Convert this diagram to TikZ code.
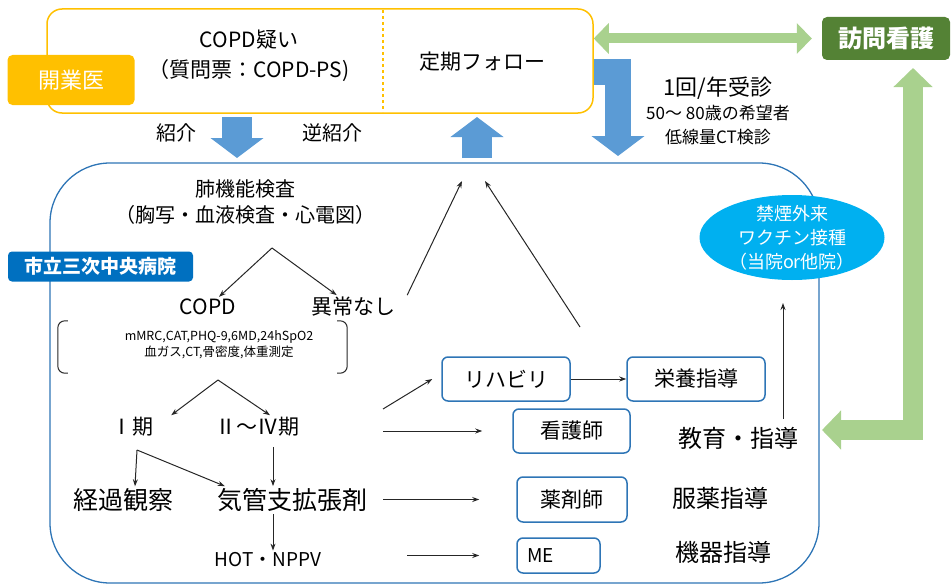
\documentclass[tikz,border=0pt]{standalone}
\usepackage{fontspec}
\setmainfont{Noto Sans CJK JP}
\usepackage{tikz}
\usetikzlibrary{arrows.meta}
\usetikzlibrary{shapes.geometric}
\usetikzlibrary{positioning}

\definecolor{gpOrange}{HTML}{FFC000}
\definecolor{flowBlue}{HTML}{5B9BD5}
\definecolor{linkGreen}{HTML}{A9D18E}
\definecolor{visitGreen}{HTML}{548235}
\definecolor{hospBlue}{HTML}{2E75B6}
\definecolor{labelBlue}{HTML}{0070C0}
\definecolor{clinicCyan}{HTML}{00B0F0}

\newcommand{\jsize}[2]{\fontsize{#1pt}{#2pt}\selectfont}

\tikzset{
	txt/.style={inner sep=2pt, text=black},
	bigarrow/.style={draw=flowBlue, line width=30pt, -{Triangle[length=20pt,width=52pt]}},
	greenarrow/.style={draw=linkGreen, line join=miter},
}

\begin{document}
\begin{tikzpicture}[x=1pt, y=-1pt]
	\useasboundingbox (0,0) rectangle (952,586);
	% frames
	\node[draw=gpOrange, line width=1.5pt, rounded corners=15pt, minimum width=546pt, minimum height=104pt] (gp) at (320,61) {};
	\draw[gpOrange, line width=1.2pt, dashed] (383,10) -- (383,112);
	\node[draw=hospBlue, line width=1.3pt, rounded corners=60pt, minimum width=769pt, minimum height=420pt] (hosp) at (434.5,373) {};

	\node[fill=gpOrange, rounded corners=5pt, minimum width=127pt, minimum height=50pt, text=white, font=\jsize{22}{26}] (kaigyo) at (71,80) {開業医};
	\node[txt, align=center, font=\jsize{21}{30}] (suspect) at (249,56) {COPD疑い\\（質問票：COPD-PS)};
	\node[txt, font=\jsize{21}{26}] (follow) at (482,62) {定期フォロー};
	\node[fill=visitGreen, rounded corners=5pt, minimum width=128pt, minimum height=43pt, text=white, font=\jsize{24}{28}\bfseries] (visit) at (886,38.5) {訪問看護};

	% referral arrows
	\coordinate (refTop) at (237,117);
	\coordinate (refTip) at (237,158);
	\coordinate (backBase) at (477,158);
	\coordinate (backTip) at (477,117);
	\coordinate (ctTip) at (618,156);
	\draw[bigarrow] (refTop) -- (refTip);
	\draw[bigarrow] (backBase) -- (backTip);
	\draw[bigarrow, line width=26pt, line join=miter] ([yshift=-11pt]gp.east) -| (ctTip);
	\node[txt, font=\jsize{20}{24}] (refer) at (176,133) {紹介};
	\node[txt, font=\jsize{20}{24}] (reverse) at (332,133) {逆紹介};
	\node[txt, align=center, font=\jsize{17}{24}] (ctnote) at (718,111) {{\jsize{22}{24}1回/年受診}\\50～ 80歳の希望者\\低線量CT検診};

	\coordinate (visitTip) at (913,68);
	\coordinate (eduTip) at (822,430);
	\draw[greenarrow, line width=10pt, {Triangle[length=15pt,width=30pt]}-{Triangle[length=15pt,width=30pt]}] (gp.east |- visit.west) -- ([xshift=-10pt]visit.west);
	\draw[greenarrow, line width=20pt, {Triangle[length=19pt,width=38pt]}-{Triangle[length=19pt,width=38pt]}] (visitTip) |- (eduTip);

	\node[fill=labelBlue, rounded corners=4pt, minimum width=185pt, minimum height=30pt, text=white, font=\jsize{19}{22}\bfseries] (hospname) at (100.5,266.5) {市立三次中央病院};
	\node[ellipse, fill=clinicCyan, minimum width=185pt, minimum height=85pt] (clinic) at (792,237.5) {};
	\node[align=center, text=white, inner sep=0pt, font=\jsize{18}{24}] (clinicText) at (clinic) {禁煙外来\\ワクチン接種\\（当院or他院）};

	% hospital flow
	\node[txt, align=center, font=\jsize{20}{26}] (lungtest) at (245,202) {肺機能検査\\（胸写・血液検査・心電図）};
	\coordinate (fork1) at (272,248);
	\node[txt, font=\jsize{21}{24}] (copd) at (208,307) {COPD};
	\node[txt, font=\jsize{21}{24}] (normal) at (353,307) {異常なし};
	\node[minimum width=289pt, minimum height=52pt, inner sep=0pt] (brk) at (202.5,347) {};
	\draw[line width=1pt, black!85, rounded corners=7pt] ([xshift=10pt]brk.north west) -- (brk.north west) -- (brk.south west) -- ([xshift=10pt]brk.south west);
	\draw[line width=1pt, black!85, rounded corners=7pt] ([xshift=-10pt]brk.north east) -- (brk.north east) -- (brk.south east) -- ([xshift=-10pt]brk.south east);
	\node[txt, align=center, font=\jsize{12.5}{16}] (tests) at (219,345) {mMRC,CAT,PHQ-9,6MD,24hSpO2\\血ガス,CT,骨密度,体重測定};
	\coordinate (fork2) at (218,380);
	\node[txt, font=\jsize{21}{24}] (stage1) at (132,427) {Ⅰ期};
	\node[txt, font=\jsize{21}{24}] (stage2) at (257,427) {Ⅱ～Ⅳ期};
	\coordinate (split1) at (137,450);
	\node[txt, font=\jsize{25}{28}] (observe) at (123,500) {経過観察};
	\node[txt, font=\jsize{25}{28}] (broncho) at (292,500) {気管支拡張剤};
	\node[txt, font=\jsize{19}{22}] (hot) at (268,560) {HOT・NPPV};

	\begin{scope}[every node/.style={draw=hospBlue, line width=1.5pt, rounded corners=6pt, minimum height=44pt, text=black, font=\jsize{21}{24}}]
		\node[minimum width=128pt] (rehab) at (506,379) {リハビリ};
		\node[minimum width=138pt] (diet) at (696,379) {栄養指導};
		\node[minimum width=117pt] (nurse) at (571.5,431) {看護師};
		\node[minimum width=110pt, minimum height=45pt] (pharma) at (572,499.5) {薬剤師};
		\node[minimum height=35pt, text width=63pt, inner xsep=10pt, align=left, font=\jsize{19}{22}] (me) at (558.5,555.5) {ME};
	\end{scope}
	\node[txt, font=\jsize{24}{28}] (edu) at (738,438) {教育・指導};
	\node[txt, font=\jsize{24}{28}] (medguide) at (720,498) {服薬指導};
	\node[txt, font=\jsize{24}{28}] (devguide) at (723,552) {機器指導};

	\coordinate (upL) at (462,181);
	\coordinate (upR) at (485,181);
	\coordinate (retStart) at (580,327);
	\coordinate (outA) at (383,409);
	\coordinate (outB) at (383,431);
	\coordinate (outC) at (383,499.5);
	\coordinate (outD) at (407,555.5);
	\coordinate (eduUp) at (783,303);

	\begin{scope}[>={Stealth[length=7pt,width=5pt]},
	              every edge/.style={draw=black!85, line width=1pt}]
		\path (fork1) edge[->] (copd);
		\path (fork1) edge[->] (normal);
		\path ([xshift=10pt]normal.north east) edge[->] (upL);
		\path (retStart) edge[->] (upR);
		\path (fork2) edge[->] ([xshift=16pt]stage1.north east);
		\path (fork2) edge[->] ([xshift=13pt]stage2.north);
		\path (split1) edge[->] ([xshift=12pt]observe.north);
		\path (split1) edge[->] ([xshift=10pt]broncho.north west);
		\path ([xshift=16pt,yshift=-8pt]stage2.south) edge[->] ([xshift=-19pt]broncho.north);
		\path ([xshift=-19pt]broncho.south) edge[->] ([xshift=5pt]hot.north);
		\path (outA) edge[->] ([xshift=-9pt]rehab.west);
		\path (outB) edge[->] ([xshift=-30pt]nurse.west);
		\path (outC) edge[->] ([xshift=-37pt]pharma.west);
		\path (outD) edge[->] ([xshift=-37pt]me.west);
		\path (rehab) edge[->] (diet);
		\path ([xshift=45pt,yshift=6pt]edu.north) edge[->] (eduUp);
	\end{scope}
\end{tikzpicture}
\end{document}
